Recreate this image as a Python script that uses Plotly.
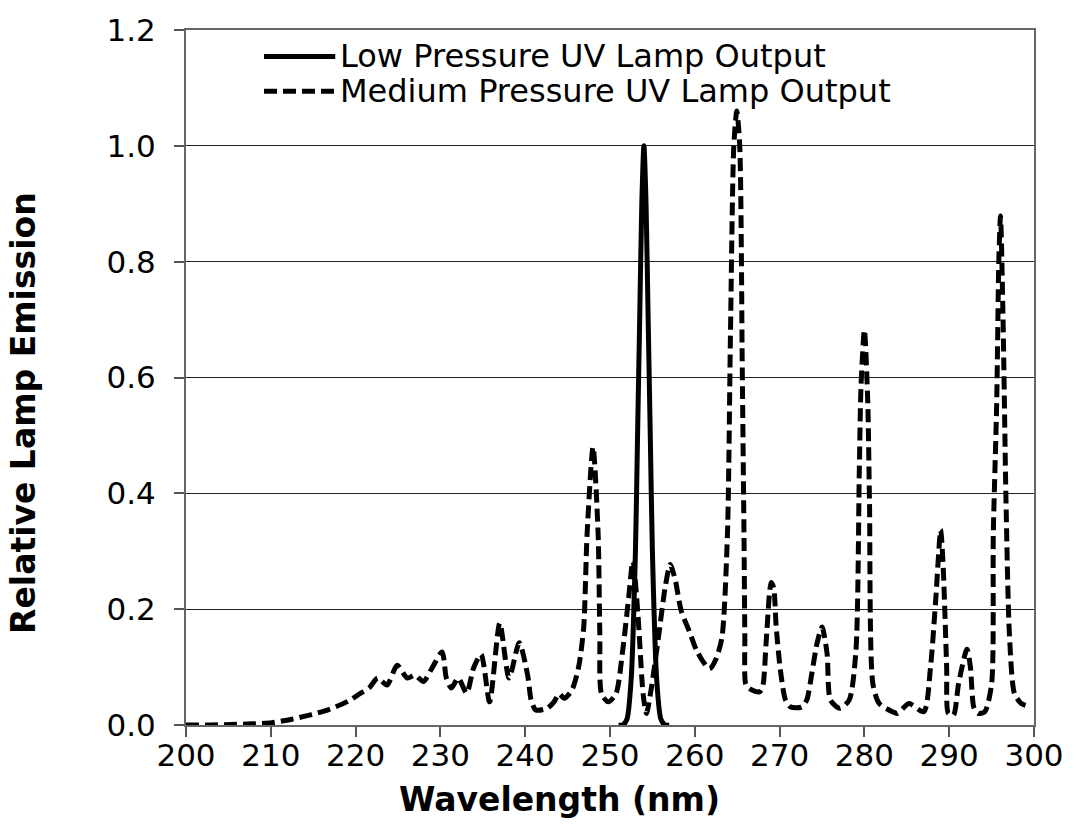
import plotly.graph_objects as go

# Low pressure lamp (nm, relative emission)
lp_wavelength = [251, 251.5, 252, 252.5, 253, 253.25, 253.5, 253.75, 254, 254.25, 254.5, 254.75, 255, 255.5, 256, 256.5, 257]
lp_emission = [0, 0, 0.01, 0.08, 0.3, 0.5, 0.7, 0.9, 1.0, 0.9, 0.7, 0.5, 0.3, 0.08, 0.01, 0, 0]

# Medium pressure lamp (nm, relative emission)
mp_wavelength = [200, 201.5, 203, 205.4, 207.8, 210.1, 212.5, 214.8, 216.9, 219.1, 220.6, 221.6, 222.6, 223.7,
                 224.9, 226.1, 227, 228, 229, 230.2, 230.7, 231.3, 232.1, 233.1, 233.9, 234.8, 235.8, 237, 238.1,
                 239.3, 240.3, 240.7, 241.25, 242.6, 243.4, 244, 244.6, 245.5, 246.3, 246.9, 247.3, 248.0, 248.6,
                 248.8, 249, 249.8, 250.7, 251.5, 252.2, 252.7, 253.3, 253.9, 254.3, 254.9, 255.7, 256.5, 257.1,
                 257.7, 258.4, 259.4, 260.2, 261, 261.75, 262.5, 263.2, 263.85, 264.2, 264.6, 264.95, 265.3, 265.6,
                 265.8, 265.9, 266.0, 266.4, 267.6, 268.0, 268.4, 268.8, 269.0, 269.3, 269.6, 270.1, 270.7, 271.3,
                 272.6, 273.2, 273.8, 274.4, 275.0, 275.6, 276.0, 277.1, 278.2, 279.0, 279.4, 279.6, 280.0, 280.4,
                 280.6, 281.0, 281.75, 283.3, 283.9, 285.25, 287.0, 287.8, 288.4, 289.0, 289.3, 289.7, 289.9,
                 290.5, 291.1, 292.1, 292.5, 292.9, 293.4, 294.2, 295.0, 295.2, 295.6, 295.85, 296.05, 296.35,
                 296.7, 297.1, 297.7, 298.5, 299.0]
mp_emission = [0, 0, 0, 0.001, 0.002, 0.004, 0.01, 0.018, 0.027, 0.041, 0.055, 0.064, 0.081, 0.069,
               0.103, 0.081, 0.086, 0.075, 0.098, 0.126, 0.081, 0.064, 0.081, 0.055, 0.098, 0.122, 0.04, 0.176, 0.081,
               0.142, 0.085, 0.043, 0.026, 0.029, 0.04, 0.054, 0.046, 0.06, 0.1, 0.169, 0.33, 0.48, 0.33,
               0.157, 0.054, 0.04, 0.054, 0.129, 0.22, 0.284, 0.19, 0.054, 0.02, 0.066, 0.15, 0.237, 0.277,
               0.25, 0.197, 0.16, 0.129, 0.109, 0.097, 0.114, 0.151, 0.33, 0.67, 1.0, 1.06, 1.0, 0.61,
               0.33, 0.157, 0.071, 0.063, 0.057, 0.066, 0.14, 0.226, 0.246, 0.237, 0.169, 0.094, 0.043, 0.031,
               0.031, 0.043, 0.089, 0.14, 0.169, 0.123, 0.043, 0.029, 0.043, 0.128, 0.44, 0.585, 0.682, 0.556,
               0.385, 0.071, 0.037, 0.023, 0.02, 0.037, 0.023, 0.1, 0.214, 0.337, 0.27, 0.1, 0.02,
               0.017, 0.071, 0.131, 0.1, 0.031, 0.02, 0.023, 0.071, 0.33, 0.556, 0.8, 0.879, 0.7,
               0.385, 0.157, 0.054, 0.037, 0.034]

x_ticks = [200, 210, 220, 230, 240, 250, 260, 270, 280, 290, 300]
y_ticks = [0.0, 0.2, 0.4, 0.6, 0.8, 1.0, 1.2]
y_tick_text = ["0.0", "0.2", "0.4", "0.6", "0.8", "1.0", "1.2"]

series_names = ["Low Pressure UV Lamp Output", "Medium Pressure UV Lamp Output"]
x_title = "Wavelength (nm)"
y_title = "Relative Lamp Emission"

FONT = "DejaVu Sans, Verdana, sans-serif"
DASH = "13px,6px"
TICK_SIZE = 31
TITLE_SIZE = 33
LEGEND_SIZE = 32

fig = go.Figure()
fig.add_trace(go.Scatter(x=mp_wavelength, y=mp_emission, mode="lines", name=series_names[1],
                         line=dict(color="black", width=5, dash=DASH, shape="spline", smoothing=0.7),
                         showlegend=False))
fig.add_trace(go.Scatter(x=lp_wavelength, y=lp_emission, mode="lines", name=series_names[0],
                         line=dict(color="black", width=5, shape="spline", smoothing=0.7),
                         showlegend=False))

# Legend drawn manually (long line samples like the original)
leg_x0, leg_x1 = 0.092, 0.176
leg_rows = [0.962, 0.912]
fig.add_shape(type="line", xref="paper", yref="paper", x0=leg_x0, x1=leg_x1, y0=leg_rows[0], y1=leg_rows[0],
              line=dict(color="black", width=5))
fig.add_shape(type="line", xref="paper", yref="paper", x0=leg_x0, x1=leg_x1, y0=leg_rows[1], y1=leg_rows[1],
              line=dict(color="black", width=5, dash=DASH))
for name, yy in zip(series_names, leg_rows):
    fig.add_annotation(x=leg_x1 + 0.003, y=yy, xref="paper", yref="paper", text=name, showarrow=False,
                       xanchor="left", yanchor="middle", font=dict(size=LEGEND_SIZE, color="black", family=FONT))

# Axis titles (centred on the whole chart area, as in the original)
fig.add_annotation(x=0.441, y=-0.107, xref="paper", yref="paper", text="<b>" + x_title + "</b>",
                   showarrow=False, xanchor="center", yanchor="middle",
                   font=dict(size=TITLE_SIZE, color="black", family=FONT))
fig.add_annotation(x=-0.191, y=0.449, xref="paper", yref="paper", text="<b>" + y_title + "</b>",
                   showarrow=False, xanchor="center", yanchor="middle", textangle=-90,
                   font=dict(size=TITLE_SIZE, color="black", family=FONT))

fig.update_layout(
    width=1076, height=831,
    margin=dict(l=186, r=33, t=25, b=106),
    paper_bgcolor="white", plot_bgcolor="white",
    font=dict(family=FONT, size=TICK_SIZE, color="black"),
    showlegend=False,
)
fig.update_xaxes(
    range=[200, 300], tickvals=x_ticks, ticks="outside", ticklen=10, tickcolor="#555", tickwidth=1.5,
    showline=True, linecolor="#666", linewidth=2, mirror=True, showgrid=False, zeroline=False,
    tickfont=dict(size=TICK_SIZE, family=FONT), ticklabelstandoff=-8,
)
fig.update_yaxes(
    range=[0, 1.2], tickvals=y_ticks, ticktext=y_tick_text, ticks="outside", ticklen=10, tickcolor="#555",
    tickwidth=1.5, showline=True, linecolor="#666", linewidth=2, mirror=True,
    showgrid=True, gridcolor="#222", gridwidth=1, zeroline=False,
    tickfont=dict(size=TICK_SIZE, family=FONT), ticklabelstandoff=12,
)

fig.write_html("out.html")
